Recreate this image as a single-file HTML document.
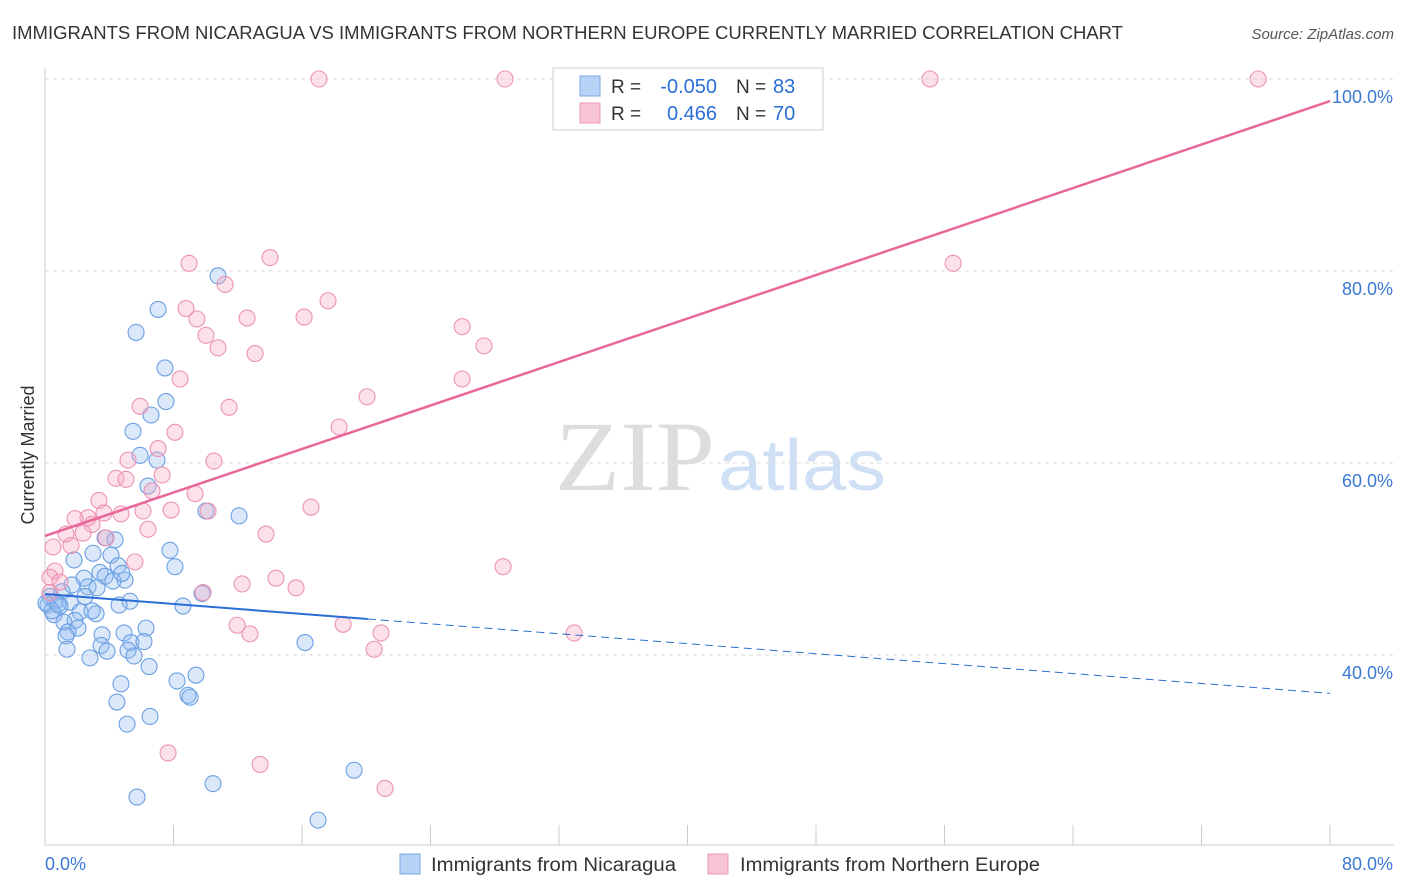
<!DOCTYPE html>
<html><head><meta charset="utf-8"><style>
body{margin:0;background:#fff;font-family:"Liberation Sans",sans-serif;}
#wrap{position:relative;width:1406px;height:892px;overflow:hidden}
</style></head><body>
<div id="wrap">
<svg id="svg" width="1406" height="892" xmlns="http://www.w3.org/2000/svg">
<text x="12" y="39" font-size="18" fill="#333" textLength="1111" lengthAdjust="spacingAndGlyphs">IMMIGRANTS FROM NICARAGUA VS IMMIGRANTS FROM NORTHERN EUROPE CURRENTLY MARRIED CORRELATION CHART</text>
<text x="1394" y="39" font-size="15" fill="#555" font-style="italic" text-anchor="end">Source: ZipAtlas.com</text>
<text x="555" y="490" font-size="100" fill="#ddd" font-family="Liberation Serif,serif" textLength="160" lengthAdjust="spacingAndGlyphs">ZIP</text>
<text x="718" y="490" font-size="72" fill="#cfe0f5" textLength="168" lengthAdjust="spacingAndGlyphs">atlas</text>
<text transform="translate(34,455) rotate(-90)" font-size="18" fill="#333" text-anchor="middle">Currently Married</text>
<g id="grid"></g><g id="marks"></g>
<g>
<rect x="553" y="68" width="270" height="62" fill="#fff" stroke="#ccc"/>
<rect x="580" y="76" width="20" height="20" fill="#b6d2f5" stroke="#7aa8e3"/>
<rect x="580" y="103" width="20" height="20" fill="#f9c4d5" stroke="#ee9ab6"/>
<text x="611" y="93" font-size="19" fill="#333">R =</text>
<text x="717" y="93" font-size="20" fill="#2a6fd6" text-anchor="end">-0.050</text>
<text x="736" y="93" font-size="19" fill="#333">N =</text>
<text x="773" y="93" font-size="20" fill="#2a6fd6">83</text>
<text x="611" y="120" font-size="19" fill="#333">R =</text>
<text x="717" y="120" font-size="20" fill="#2a6fd6" text-anchor="end">0.466</text>
<text x="736" y="120" font-size="19" fill="#333">N =</text>
<text x="773" y="120" font-size="20" fill="#2a6fd6">70</text>
</g>
<g>
<rect x="400" y="854" width="20" height="20" fill="#b6d2f5" stroke="#7aa8e3"/>
<text x="431" y="871" font-size="19" fill="#333" textLength="245" lengthAdjust="spacingAndGlyphs">Immigrants from Nicaragua</text>
<rect x="708" y="854" width="20" height="20" fill="#f9c4d5" stroke="#ee9ab6"/>
<text x="740" y="871" font-size="19" fill="#333" textLength="300" lengthAdjust="spacingAndGlyphs">Immigrants from Northern Europe</text>
</g>
</svg></div>
<script>
const blueX=[10.77,7.04,5.67,7.47,7.53,6.60,5.48,5.92,6.97,6.41,10.02,12.08,3.74,7.78,2.99,4.11,1.81,8.09,4.55,3.42,2.43,4.98,3.74,4.23,2.68,3.24,1.06,0.31,0.62,1.56,5.29,4.61,8.59,9.78,0.19,0.93,2.18,3.18,2.93,0.56,1.87,1.18,2.05,1.43,6.29,4.92,3.55,1.31,5.35,6.16,16.19,3.49,1.37,3.86,5.17,5.54,2.80,6.48,9.40,8.22,4.73,8.90,9.03,4.48,6.54,5.11,19.24,10.46,5.73,17.0,0.06,0.44,0.81,2.49,1.68,4.79,4.36];
const blueY=[79.5,76.0,73.6,69.9,66.4,65.0,63.3,60.8,60.3,57.6,55.0,54.5,52.2,50.9,50.6,50.4,49.9,49.2,49.3,48.6,48.0,47.8,48.2,47.7,47.1,47.0,46.6,46.1,45.6,45.5,45.6,45.2,45.1,46.4,45.2,45.1,44.5,44.3,44.6,44.2,43.6,43.4,42.8,42.4,42.8,42.3,42.1,42.0,41.3,41.4,41.3,41.0,40.6,40.4,40.5,39.9,39.7,38.8,37.9,37.3,37.0,35.8,35.6,35.1,33.6,32.8,28.0,26.6,25.2,22.8,45.4,44.6,45.3,46.1,47.3,48.5,52.0];
const pinkX=[17.06,28.64,55.1,75.53,14.01,8.97,56.54,11.21,8.78,17.62,9.46,12.58,16.13,10.02,25.97,10.77,27.33,13.08,8.41,25.97,20.05,5.92,11.46,18.31,8.09,7.04,5.17,10.52,7.29,4.42,5.04,6.66,9.34,3.36,16.56,7.85,10.15,6.10,4.73,2.68,3.67,2.93,1.87,6.41,1.31,2.37,13.76,3.80,1.62,0.50,5.60,28.52,14.38,0.62,0.31,9.84,15.63,12.27,11.96,18.56,12.76,20.92,32.94,20.49,7.66,13.39,21.17,0.31,0.93];
const pinkY=[100,100,100,100,81.4,80.8,80.8,78.6,76.1,76.9,75.0,75.1,75.2,73.3,74.2,72.0,72.2,71.4,68.75,68.75,66.9,65.9,65.8,63.75,63.2,61.5,60.3,60.2,58.75,58.4,58.3,57.1,56.8,56.1,55.4,55.1,55.0,55.0,54.7,54.3,54.8,53.6,54.2,53.1,52.6,52.7,52.6,52.2,51.4,51.25,49.7,49.2,48.0,48.75,48.1,46.5,47.0,47.4,43.1,43.2,42.2,42.3,42.3,40.6,29.8,28.6,26.1,46.5,47.6];
const blueTrend=[46.35,36.0];
const pinkTrend=[52.4,97.7];
const yTicks=[100,80,60,40];
const yTickLabels=["100.0%","80.0%","60.0%","40.0%"];
const xTicks=[0,8,16,24,32,40,48,56,64,72,80];

const NS="http://www.w3.org/2000/svg";
const sx=v=>45+v*16.0625;
const sy=v=>79+(100-v)*9.6;
function mk(t,a,p){const e=document.createElementNS(NS,t);for(const k in a)e.setAttribute(k,a[k]);p.appendChild(e);return e;}
const grid=document.getElementById('grid'),marks=document.getElementById('marks');
yTicks.forEach((t,i)=>{
 const l=mk('line',{x1:45,x2:1394,y1:sy(t),y2:sy(t),stroke:'#ddd','stroke-dasharray':'4,4'},grid);
 
 
 const tx=mk('text',{x:1393,y:sy(t)+24,'font-size':18,fill:'#3a78d4','text-anchor':'end'},grid);
 tx.textContent=yTickLabels[i];
 
 
});
const ax=mk('line',{x1:45,x2:1394,y1:845,y2:845,stroke:'#ccc'},grid);


const ay=mk('line',{x1:45,x2:45,y1:68,y2:845,stroke:'#ccc'},grid);


xTicks.forEach(t=>{
 const l=mk('line',{x1:sx(t),x2:sx(t),y1:825,y2:845,stroke:'#ccc'},grid);
 
 
});
const xl0=mk('text',{x:45,y:870,'font-size':18,fill:'#3a78d4'},grid);xl0.textContent='0.0%';


const xl1=mk('text',{x:1393,y:870,'font-size':18,fill:'#3a78d4','text-anchor':'end'},grid);xl1.textContent='80.0%';


blueX.forEach((x,i)=>{
 const c=mk('circle',{cx:sx(x),cy:sy(blueY[i]),r:8,fill:'rgba(150,190,240,0.35)',stroke:'#6b9fe2','stroke-width':1.1},marks);
 
 
});
pinkX.forEach((x,i)=>{
 const c=mk('circle',{cx:sx(x),cy:sy(pinkY[i]),r:8,fill:'rgba(245,170,195,0.35)',stroke:'#ec93b2','stroke-width':1.1},marks);
 
 
});
const bAt=x=>blueTrend[0]+(blueTrend[1]-blueTrend[0])*x/80;
const b1=mk('line',{x1:sx(0),y1:sy(bAt(0)),x2:sx(20.1),y2:sy(bAt(20.1)),stroke:'#2a6fd6','stroke-width':2},marks);


const b2=mk('line',{x1:sx(20.1),y1:sy(bAt(20.1)),x2:sx(80),y2:sy(bAt(80)),stroke:'#2a6fd6','stroke-width':1,'stroke-dasharray':'8,5'},marks);


const p1=mk('line',{x1:sx(0),y1:sy(pinkTrend[0]),x2:sx(80),y2:sy(pinkTrend[1]),stroke:'#e8679a','stroke-width':2.5},marks);


</script>
</body></html>
